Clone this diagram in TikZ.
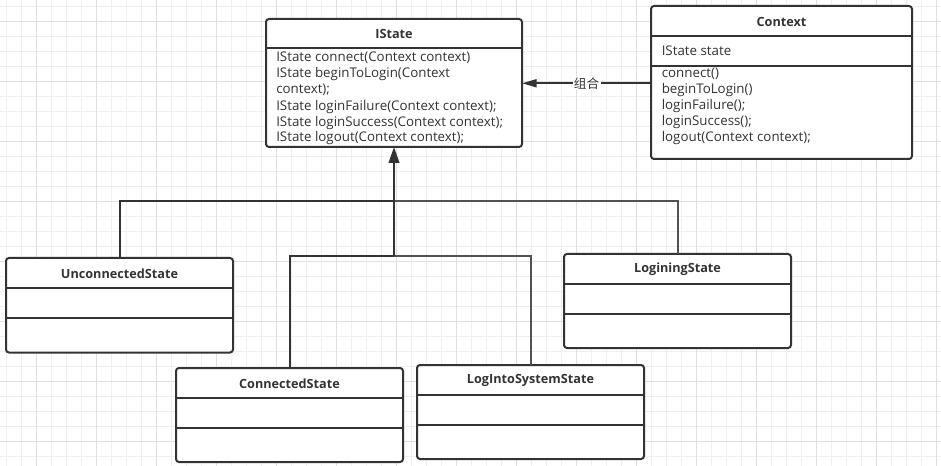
\documentclass[tikz,border=0pt]{standalone}
\usepackage{fontspec}
\setmainfont{Open Sans}
\newfontfamily\cjk{Noto Sans CJK SC}
\usetikzlibrary{arrows.meta}
\definecolor{linec}{HTML}{333333}
\definecolor{gridminor}{HTML}{EFEFEF}
\definecolor{gridmajor}{HTML}{E0E0E0}
\begin{document}
\begin{tikzpicture}[x=0.75pt,y=-0.75pt,
  cls/.style={draw=linec, fill=white, line width=1.5pt, rounded corners=2.25pt,
    inner sep=0pt, outer sep=0pt, anchor=north west},
  divline/.style={draw=linec, line width=1.5pt},
  ctitle/.style={font=\bfseries\fontsize{9.5}{11}\selectfont, text=linec, inner sep=0pt},
  member/.style={font=\fontsize{10}{12}\selectfont, text=linec, inner sep=0pt, anchor=west,
    text height=7.5pt, text depth=2pt},
  conn/.style={draw=linec, line width=1.5pt},
  lconn/.style={draw=linec!85, line width=1.5pt},
  tip/.style={-{Triangle[length=12pt,width=8pt]}},
  comp/.style={-{Triangle[length=11pt,width=6pt]}}
]
\useasboundingbox (0,0) rectangle (941,466);
\fill[white] (0,0) rectangle (941,466);
% grid
\foreach \i in {0,...,62} {\draw[gridminor, line width=0.75pt] (6.7+15*\i,0) -- (6.7+15*\i,466);}
\foreach \i in {0,...,31} {\draw[gridminor, line width=0.75pt] (0,6.7+15*\i) -- (941,6.7+15*\i);}
\foreach \i in {0,...,15} {\draw[gridmajor, line width=0.75pt] (36.7+60*\i,0) -- (36.7+60*\i,466);}
\foreach \i in {0,...,7} {\draw[gridmajor, line width=0.75pt] (0,21.7+60*\i) -- (941,21.7+60*\i);}

% IState
\node[cls, minimum width=256*0.75pt, minimum height=128*0.75pt] (istate) at (266,19) {};
\draw[divline] (istate.west |- 0,48) -- (istate.east |- 0,48);
\node[ctitle] (istateT) at (394,33.5) {IState};
\node[member] (is1) at (276,58) {IState connect(Context context)};
\node[member] (is2) at (276,74) {IState beginToLogin(Context};
\node[member] (is3) at (276,90) {context);};
\node[member] (is4) at (276,106.5) {IState loginFailure(Context context);};
\node[member] (is5) at (276,122.5) {IState loginSuccess(Context context);};
\node[member] (is6) at (276,138) {IState logout(Context context);};

% Context
\node[cls, minimum width=261*0.75pt, minimum height=153*0.75pt] (context) at (651,6) {};
\draw[divline] (context.west |- 0,36) -- (context.east |- 0,36);
\draw[divline] (context.west |- 0,66) -- (context.east |- 0,66);
\node[ctitle] (contextT) at (781.5,21.5) {Context};
\node[member] (cx0) at (661.5,51.5) {IState state};
\node[member] (cx1) at (661.5,74) {connect()};
\node[member] (cx2) at (661.5,90) {beginToLogin()};
\node[member] (cx3) at (661.5,106) {loginFailure();};
\node[member] (cx4) at (661.5,122) {loginSuccess();};
\node[member] (cx5) at (661.5,138) {logout(Context context);};

% sub classes
\node[cls, minimum width=227*0.75pt, minimum height=94.5*0.75pt] (uncon) at (6,258) {};
\draw[divline] (uncon.west |- 0,288) -- (uncon.east |- 0,288);
\draw[divline] (uncon.west |- 0,317.5) -- (uncon.east |- 0,317.5);
\node[ctitle] (unconT) at (119.5,273.3) {UnconnectedState};

\node[cls, minimum width=227*0.75pt, minimum height=94*0.75pt] (logining) at (564,254) {};
\draw[divline] (logining.west |- 0,284) -- (logining.east |- 0,284);
\draw[divline] (logining.west |- 0,314) -- (logining.east |- 0,314);
\node[ctitle] (loginingT) at (677.5,269.3) {LoginingState};

\node[cls, minimum width=227*0.75pt, minimum height=94*0.75pt] (connst) at (176,368) {};
\draw[divline] (connst.west |- 0,398) -- (connst.east |- 0,398);
\draw[divline] (connst.west |- 0,427.5) -- (connst.east |- 0,427.5);
\node[ctitle] (connstT) at (289.5,383.3) {ConnectedState};

\node[cls, minimum width=227*0.75pt, minimum height=94*0.75pt] (logsys) at (417,365) {};
\draw[divline] (logsys.west |- 0,395) -- (logsys.east |- 0,395);
\draw[divline] (logsys.west |- 0,425) -- (logsys.east |- 0,425);
\node[ctitle] (logsysT) at (530.5,380) {LogIntoSystemState};

% connectors
\coordinate (j1) at (394,201.5);
\coordinate (j2) at (394,256.5);
\draw[conn] (uncon.north -| 120,0) |- (j1);
\draw[lconn] (logining.north) |- (j1);
\draw[conn] (connst.north -| 290,0) |- (j2);
\draw[lconn] (logsys.north) |- (j2);
\draw[conn, tip] (j2) -- (istate.south);

\draw[conn, comp] (context.west |- 0,83.3) -- (istate.east |- 0,83.3)
  node[pos=0.5, fill=white, inner sep=1pt, text=linec, font=\cjk\fontsize{9.5}{11}\selectfont] (lbl) {组合};
\end{tikzpicture}
\end{document}
